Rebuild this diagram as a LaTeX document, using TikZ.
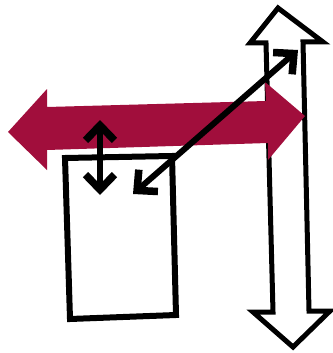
\documentclass[tikz,border=0pt]{standalone}
\usetikzlibrary{arrows.meta}
\definecolor{maroon}{RGB}{161,14,60}
\tikzset{barb/.tip={Straight Barb[length=15pt,width=29pt,line width=1.5pt 1,line join=miter,line cap=butt]}}
\begin{document}
\begin{tikzpicture}[x=1pt,y=-1pt,
  outline/.style={draw=black,line width=5pt,line join=miter,fill=white},
  band/.style={fill=maroon},
  link/.style={draw=black,line width=6pt,{barb}-{barb}}]
\useasboundingbox (0,0) rectangle (332,353);
% rectangle
\coordinate (r1) at (65,158);
\coordinate (r2) at (172,156);
\coordinate (r3) at (176,315);
\coordinate (r4) at (70,319);
\draw[outline,line width=6pt] (r1) -- (r2) -- (r3) -- (r4) -- cycle;
% vertical outlined double arrow
\draw[outline] (278,8) -- (323,42) -- (303,42) -- (309,311) -- (330,311)
  -- (293,347) -- (253,312) -- (273,312) -- (266,43) -- (250,43) -- cycle;
% red double arrow
\fill[band] (8,132) -- (47,89) -- (47,107) -- (266,101) -- (265,82) -- (305,116)
  -- (268,160) -- (268,143) -- (47,150) -- (47,170) -- cycle;
% small arrows
\coordinate (a1) at (100,120);
\coordinate (a2) at (100,195);
\coordinate (d1) at (133,194);
\coordinate (d2) at (298,50);
\draw[link] (a1) -- (a2);
\draw[link] (d1) -- (d2);
\end{tikzpicture}
\end{document}
